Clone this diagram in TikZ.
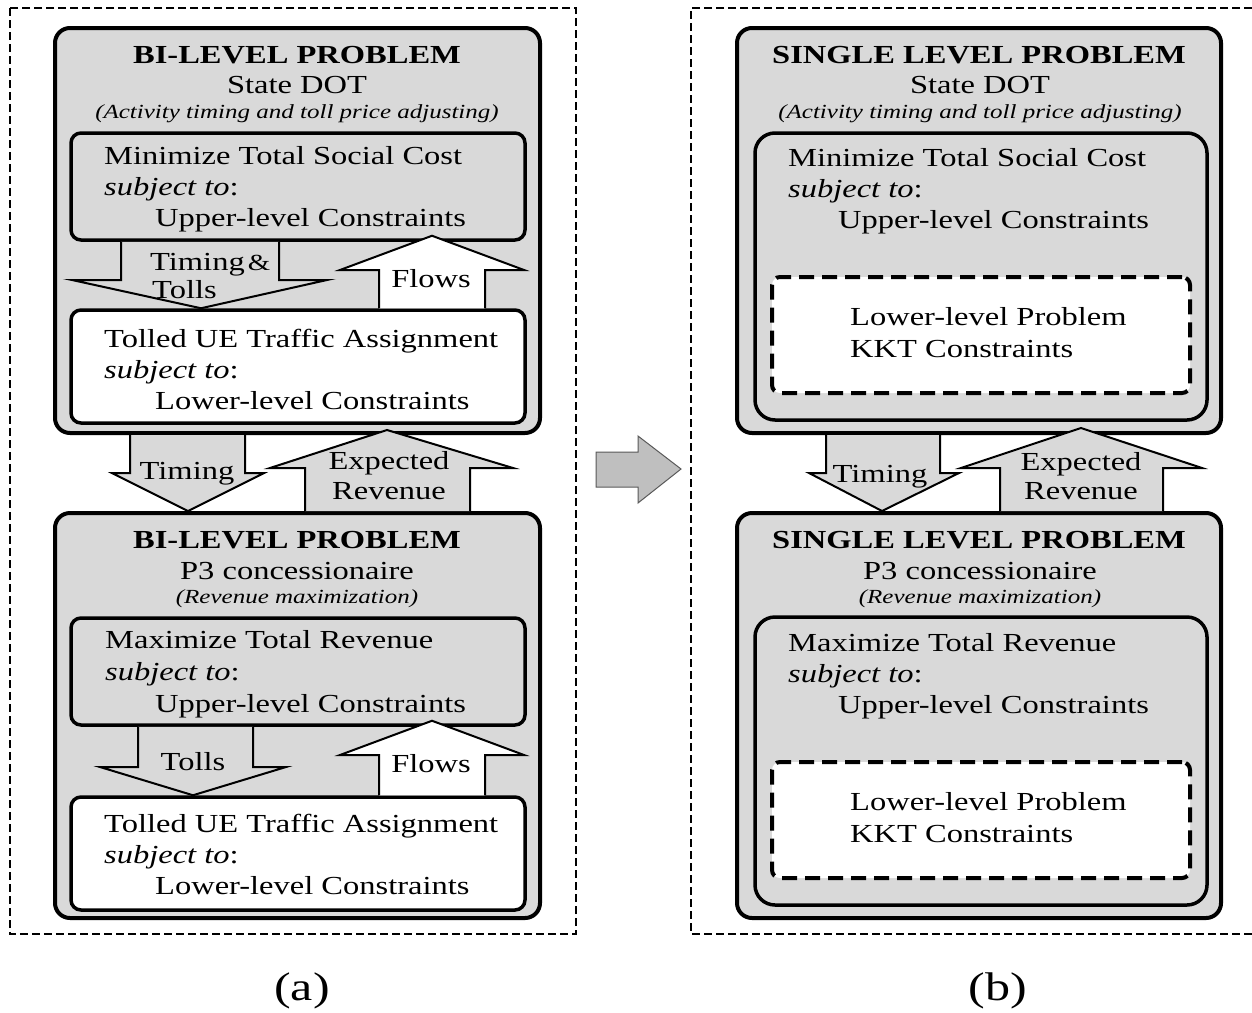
\documentclass[tikz,border=0pt]{standalone}
\usepackage{fontspec}
\setmainfont{Liberation Serif}[FakeStretch=1.25]
\usetikzlibrary{fit,calc}

\newcommand{\boxfont}{\fontsize{26pt}{31pt}\selectfont}
\newcommand{\notefont}{\fontsize{20pt}{24pt}\selectfont\itshape}
\newcommand{\tagfont}{\fontsize{40pt}{48pt}\selectfont}

\begin{document}
\begin{tikzpicture}[
    x=1pt, y=-1pt,
    panel/.style={draw, line width=4pt, fill=black!15, rounded corners=15pt, inner sep=0pt},
    upperbox/.style={draw, line width=3.5pt, fill=black!15, rounded corners=10pt, inner sep=0pt},
    lowerbox/.style={draw, line width=3.5pt, fill=white, rounded corners=10pt, inner sep=0pt},
    kktbox/.style={draw, line width=4pt, dash pattern=on 15pt off 8pt, fill=white, rounded corners=8pt, inner sep=0pt},
    dashframe/.style={line width=2pt, dash pattern=on 8pt off 4pt},
    grayarrow/.style={draw, line width=2pt, fill=black!15},
    whitearrow/.style={draw, line width=2pt, fill=white},
    nextarrow/.style={draw=black!65, line width=1pt, fill=black!25},
    txt/.style={font=\boxfont, inner sep=0pt, anchor=base west},
    ctxt/.style={font=\boxfont, inner sep=0pt, anchor=base},
    headtxt/.style={font=\boxfont\bfseries, inner sep=0pt, anchor=base},
    notetxt/.style={font=\notefont, inner sep=0pt, anchor=base}
]
\useasboundingbox (0,0) rectangle (1252,1012);

% Dashed frames of the two panels
\draw[dashframe] (10,8) rectangle (576,934);
\draw[dashframe] (1252,8) -- (691,8) -- (691,934) -- (1252,934);

% (a) bi-level formulation
\node[panel, fit={(55,28) (540,433)}] (dotL) {};
\node[upperbox, fit={(71,133) (525,240)}] (costL) {};
\node[lowerbox, fit={(71,310) (525,423)}] (ueL) {};
\node[panel, fit={(55,513) (540,918)}] (ptL) {};
\node[upperbox, fit={(71,618) (525,725)}] (revL) {};
\node[lowerbox, fit={(71,797) (525,910)}] (ue2L) {};

\node[headtxt] (dotL1) at (297,63) {BI-LEVEL PROBLEM};
\node[ctxt] (dotL2) at (297,93) {State DOT};
\node[notetxt] (dotL3) at (297,118) {(Activity timing and toll price adjusting)};
\node[txt] (costL1) at (104,164) {Minimize Total Social Cost};
\node[txt] (costL2) at (104,195) {\textit{subject to}:};
\node[txt] (costL3) at (155,226) {Upper-level Constraints};
\node[txt] (ueL1) at (104,347) {Tolled UE Traffic Assignment};
\node[txt] (ueL2) at (104,378) {\textit{subject to}:};
\node[txt] (ueL3) at (155,409) {Lower-level Constraints};

\node[headtxt] (ptL1) at (297,548) {BI-LEVEL PROBLEM};
\node[ctxt] (ptL2) at (297,579) {P3 concessionaire};
\node[notetxt] (ptL3) at (297,603) {(Revenue maximization)};
\node[txt] (revL1) at (105,648) {Maximize Total Revenue};
\node[txt] (revL2) at (105,680) {\textit{subject to}:};
\node[txt] (revL3) at (155,712) {Upper-level Constraints};
\node[txt] (ue2L1) at (104,832) {Tolled UE Traffic Assignment};
\node[txt] (ue2L2) at (104,863) {\textit{subject to}:};
\node[txt] (ue2L3) at (155,894) {Lower-level Constraints};

% block arrows of (a)
\draw[grayarrow] (121,0 |- costL.south) -- (121,280) -- (72,280) -- (201,0 |- ueL.north) -- (327,280) -- (279,280) -- (279,0 |- costL.south);
\draw[whitearrow] (379,0 |- ueL.north) -- (379,270) -- (340,270) -- ($(432,0 |- costL.south)+(0,-6)$) -- (524,270) -- (485,270) -- (485,0 |- ueL.north);
\draw[grayarrow] (130,0 |- dotL.south) -- (130,473) -- (112,473) -- (188,0 |- ptL.north) -- (264,473) -- (245,473) -- (245,0 |- dotL.south);
\draw[grayarrow] (305,0 |- ptL.north) -- (305,468) -- (270,468) -- ($(387,0 |- dotL.south)+(0,-5)$) -- (513,468) -- (470,468) -- (470,0 |- ptL.north);
\draw[grayarrow] (138,0 |- revL.south) -- (138,767) -- (100,767) -- (193,0 |- ue2L.north) -- (286,767) -- (253,767) -- (253,0 |- revL.south);
\draw[whitearrow] (379,0 |- ue2L.north) -- (379,755) -- (340,755) -- ($(432,0 |- revL.south)+(0,-6)$) -- (524,755) -- (485,755) -- (485,0 |- ue2L.north);

\node[txt] (tt1) at (150,270) {Timing\hspace{3pt}{\fontsize{23pt}{31pt}\selectfont\&}};
\node[txt] (tt2) at (152,298) {Tolls};
\node[ctxt] (flowL) at (431,287) {Flows};
\node[ctxt] (timeL) at (187,479) {Timing};
\node[ctxt] (expL1) at (389,469) {Expected};
\node[ctxt] (expL2) at (389,499) {Revenue};
\node[ctxt] (tollL) at (193,770) {Tolls};
\node[ctxt] (flow2L) at (431,772) {Flows};

% (a) to (b)
\draw[nextarrow] (596,452) -- (638,452) -- (638,436) -- (681,469) -- (638,503) -- (638,487) -- (596,487) -- cycle;

% (b) single level formulation
\node[panel, fit={(737,28) (1221,433)}] (dotR) {};
\node[upperbox, rounded corners=20pt, fit={(755,133) (1207,420)}] (costR) {};
\node[kktbox, fit={(772,277) (1190,393)}] (kktR) {};
\node[panel, fit={(737,513) (1221,918)}] (ptR) {};
\node[upperbox, rounded corners=20pt, fit={(755,617) (1207,905)}] (revR) {};
\node[kktbox, fit={(772,762) (1190,878)}] (kkt2R) {};

\node[headtxt] (dotR1) at (979,63) {SINGLE LEVEL PROBLEM};
\node[ctxt] (dotR2) at (980,93) {State DOT};
\node[notetxt] (dotR3) at (980,118) {(Activity timing and toll price adjusting)};
\node[txt] (costR1) at (788,166) {Minimize Total Social Cost};
\node[txt] (costR2) at (788,197) {\textit{subject to}:};
\node[txt] (costR3) at (838,228) {Upper-level Constraints};
\node[txt] (kktR1) at (850,325) {Lower-level Problem};
\node[txt] (kktR2) at (850,357) {KKT Constraints};

\node[headtxt] (ptR1) at (979,548) {SINGLE LEVEL PROBLEM};
\node[ctxt] (ptR2) at (980,579) {P3 concessionaire};
\node[notetxt] (ptR3) at (980,603) {(Revenue maximization)};
\node[txt] (revR1) at (788,651) {Maximize Total Revenue};
\node[txt] (revR2) at (788,682) {\textit{subject to}:};
\node[txt] (revR3) at (838,713) {Upper-level Constraints};
\node[txt] (kkt2R1) at (850,810) {Lower-level Problem};
\node[txt] (kkt2R2) at (850,842) {KKT Constraints};

% block arrows of (b)
\draw[grayarrow] (826,0 |- dotR.south) -- (826,473) -- (809,473) -- (882,0 |- ptR.north) -- (959,473) -- (940,473) -- (940,0 |- dotR.south);
\draw[grayarrow] (1000,0 |- ptR.north) -- (1000,468) -- (961,468) -- ($(1081,0 |- dotR.south)+(0,-7)$) -- (1202,468) -- (1163,468) -- (1163,0 |- ptR.north);

\node[ctxt] (timeR) at (880,482) {Timing};
\node[ctxt] (expR1) at (1081,470) {Expected};
\node[ctxt] (expR2) at (1081,499) {Revenue};

% panel tags
\node[font=\tagfont, inner sep=0pt, anchor=base] (tagA) at (302,1000) {(a)};
\node[font=\tagfont, inner sep=0pt, anchor=base] (tagB) at (998,1000) {(b)};
\end{tikzpicture}
\end{document}
